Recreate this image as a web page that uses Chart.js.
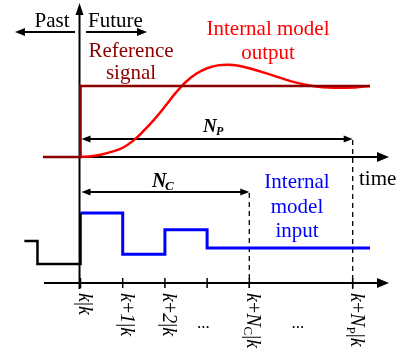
<!DOCTYPE html>
<html lang="en">
<head>
  <meta charset="UTF-8" />
  <title>Prediction horizon</title>
  <script src="https://cdn.jsdelivr.net/npm/chart.js"></script>
  <style>
    body { margin: 0; background: #fff; }
    canvas { display: block; }
  </style>
</head>
<body>
  <canvas id="mpcChart" width="401" height="354"></canvas>

  <script>
    // time in sampling steps, k = 0
    const outT = [0, 0.25, 0.5, 0.75, 1, 1.25, 1.5, 1.75, 2, 2.25, 2.5, 2.75, 3, 3.25, 3.5, 3.75, 4, 4.5, 5, 5.5, 6, 6.5, 6.86];
    const outY = [0, 0.01, 0.035, 0.075, 0.13, 0.23, 0.37, 0.53, 0.71, 0.9, 1.06, 1.175, 1.25, 1.29, 1.30, 1.285, 1.25, 1.16, 1.065, 1.0, 0.975, 0.98, 1.0];
    const refT = [-0.89, 0, 0, 6.86];
    const refY = [0, 0, 1, 1];
    const inT = [0, 1, 2, 3, 6.86];
    const inU = [1.0, 0.41, 0.76, 0.5, 0.5];
    const pastT = [-1.33, -1.02, 0, 0];
    const pastU = [0.6, 0.27, 0.27, 1.0];
    const Nc = 4;
    const Np = 6.45;
    const tickT = [0, 1, 2, 3, 4, 6.45];
    const tickLabels = ['k|k', 'k+1|k', 'k+2|k', '', 'k+N_C|k', 'k+N_P|k'];
    const dotsT = [2.91, 5.15];

    const pts = (xs, ys) => xs.map((x, i) => ({ x: x, y: ys[i] }));
    const serif = '"Liberation Serif", "Times New Roman", serif';

    function arrow(ctx, x1, y1, x2, y2, len, half) {
      const a = Math.atan2(y2 - y1, x2 - x1);
      ctx.beginPath();
      ctx.moveTo(x1, y1);
      ctx.lineTo(x2 - Math.cos(a) * len * 0.8, y2 - Math.sin(a) * len * 0.8);
      ctx.stroke();
      ctx.beginPath();
      ctx.moveTo(x2, y2);
      ctx.lineTo(x2 - Math.cos(a) * len - Math.sin(a) * half, y2 - Math.sin(a) * len + Math.cos(a) * half);
      ctx.lineTo(x2 - Math.cos(a) * len + Math.sin(a) * half, y2 - Math.sin(a) * len - Math.cos(a) * half);
      ctx.closePath();
      ctx.fill();
    }

    // k+N_C|k -> italic letters/digits, upright symbols, _X subscript
    function richLabel(ctx, str, x, y, size) {
      let cx = x;
      for (let i = 0; i < str.length; i++) {
        let ch = str[i];
        let sub = false;
        if (ch === '_') { ch = str[++i]; sub = true; }
        const it = /[A-Za-z0-9]/.test(ch);
        const fs = sub ? size * 0.65 : size;
        ctx.font = (it && !sub ? 'italic ' : '') + fs + 'px ' + serif;
        ctx.fillText(ch, cx, sub ? y + size * 0.18 : y);
        cx += ctx.measureText(ch).width;
      }
    }

    const diagram = {
      id: 'diagram',
      beforeDatasetsDraw(chart) {
        const ctx = chart.ctx;
        const X = v => chart.scales.x.getPixelForValue(v);
        const Y1 = v => chart.scales.y.getPixelForValue(v);
        const Y2 = v => chart.scales.y2.getPixelForValue(v);
        ctx.save();
        ctx.strokeStyle = '#000';
        ctx.fillStyle = '#000';
        ctx.lineWidth = 2;

        // axes
        arrow(ctx, X(0), Y1(0), 389, Y1(0), 12, 5);
        arrow(ctx, 44, Y2(0), 389, Y2(0), 12, 5);
        arrow(ctx, X(0) - 1, Y2(0) + 6, X(0) - 1, 3, 12, 4);

        // past / future
        arrow(ctx, 75, 32, 15, 32, 10, 4);
        arrow(ctx, 86, 32, 147, 32, 10, 4);

        // horizons
        ctx.lineWidth = 1.8;
        arrow(ctx, X(Np) - 6, 139, X(0) + 1, 139, 9, 3.5);
        arrow(ctx, X(0) + 8, 139, X(Np), 139, 9, 3.5);
        arrow(ctx, X(Nc) - 6, 192, X(0) + 1, 192, 9, 3.5);
        arrow(ctx, X(0) + 8, 192, X(Nc), 192, 9, 3.5);

        ctx.lineWidth = 1.3;
        ctx.setLineDash([5, 4]);
        ctx.beginPath();
        ctx.moveTo(X(Np), 140); ctx.lineTo(X(Np), Y2(0) + 6);
        ctx.moveTo(X(Nc), 193); ctx.lineTo(X(Nc), Y2(0) + 6);
        ctx.stroke();
        ctx.setLineDash([]);

        // tick marks
        ctx.lineWidth = 1.5;
        ctx.beginPath();
        tickT.forEach(t => {
          ctx.moveTo(X(t), Y2(0) - 5);
          ctx.lineTo(X(t), Y2(0) + 5);
        });
        ctx.stroke();
        ctx.restore();
      },
      afterDatasetsDraw(chart) {
        const ctx = chart.ctx;
        const X = v => chart.scales.x.getPixelForValue(v);
        ctx.save();
        ctx.textBaseline = 'alphabetic';

        ctx.font = '21px ' + serif;
        ctx.fillStyle = '#000';
        ctx.textAlign = 'center';
        ctx.fillText('Past', 52, 27);
        ctx.textAlign = 'left';
        ctx.fillText('Future', 88, 27);
        ctx.fillText('time', 359, 185);

        ctx.textAlign = 'center';
        ctx.fillStyle = '#8b0000';
        ctx.fillText('Reference', 131, 57);
        ctx.fillText('signal', 131, 79);

        ctx.fillStyle = '#ff0000';
        ctx.fillText('Internal model', 268, 35);
        ctx.fillText('output', 268, 59);

        ctx.fillStyle = '#0000ff';
        ctx.fillText('Internal', 297, 188);
        ctx.fillText('model', 297, 213);
        ctx.fillText('input', 297, 237);

        // horizon names
        ctx.fillStyle = '#000';
        ctx.textAlign = 'left';
        ctx.font = 'italic bold 19px ' + serif;
        ctx.fillText('N', 203, 132);
        ctx.font = 'italic bold 12px ' + serif;
        ctx.fillText('P', 216, 135);
        ctx.font = 'italic bold 20px ' + serif;
        ctx.fillText('N', 152, 187);
        ctx.font = 'italic bold 13px ' + serif;
        ctx.fillText('C', 165, 190);

        // time step labels, rotated
        tickT.forEach((t, i) => {
          if (!tickLabels[i]) return;
          ctx.save();
          ctx.translate(X(t) - 2, 293);
          ctx.rotate(Math.PI / 2);
          richLabel(ctx, tickLabels[i], 0, 0, 20);
          ctx.restore();
        });
        ctx.font = '17px ' + serif;
        ctx.textAlign = 'center';
        dotsT.forEach(t => ctx.fillText('...', X(t), 328));
        ctx.restore();
      }
    };

    new Chart(document.getElementById('mpcChart'), {
      type: 'scatter',
      data: {
        datasets: [
          { data: pts(refT, refY), showLine: true, borderColor: '#8b0000', borderWidth: 2.5, pointRadius: 0, yAxisID: 'y' },
          { data: pts(outT, outY), showLine: true, borderColor: '#ff0000', borderWidth: 2.5, pointRadius: 0, tension: 0.4, yAxisID: 'y' },
          { data: pts(pastT, pastU), showLine: true, stepped: true, borderColor: '#000', borderWidth: 2.5, pointRadius: 0, yAxisID: 'y2' },
          { data: pts(inT, inU), showLine: true, stepped: true, borderColor: '#0000ff', borderWidth: 3, pointRadius: 0, yAxisID: 'y2' }
        ]
      },
      options: {
        responsive: false,
        devicePixelRatio: 1,
        animation: false,
        layout: { padding: 0 },
        plugins: { legend: { display: false }, tooltip: { enabled: false } },
        scales: {
          x: { type: 'linear', display: false, min: -1.908, max: 7.595 },
          y: { type: 'linear', display: false, min: -2.775, max: 2.211 },
          y2: { type: 'linear', display: false, min: -1.014, max: 4.043 }
        }
      },
      plugins: [diagram]
    });
  </script>
</body>
</html>
